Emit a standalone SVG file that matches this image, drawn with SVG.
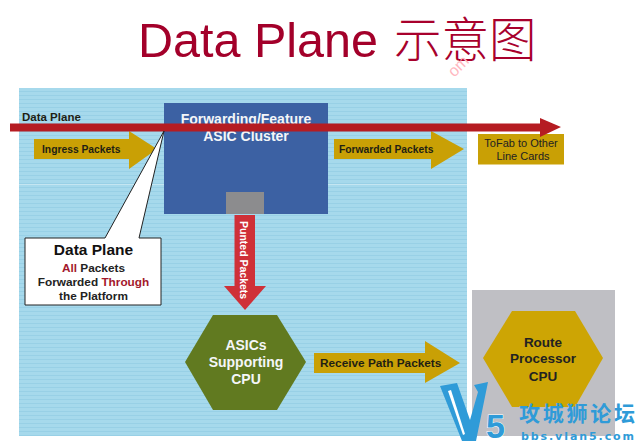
<svg xmlns="http://www.w3.org/2000/svg" width="639" height="447" viewBox="0 0 639 447">
<style>
.s{font-family:"Liberation Sans",Arial,sans-serif}
.w{fill:#f4f6f8;font-weight:700;text-anchor:middle;font-size:14px}
.k{fill:#1f1f14;font-weight:700;font-size:10.300px}
.gold{fill:#c9a005}
.c{text-anchor:middle}
.lk{fill:#222;font-weight:700;font-size:11.800px;text-anchor:middle}
.r{fill:#a3182c}
.wm{fill:#2f9bd8}
.rp{font-size:13.500px;font-weight:700;fill:#222;text-anchor:middle}
</style>
<defs>
<pattern id="st" width="4" height="4" patternUnits="userSpaceOnUse"><rect width="4" height="4" fill="#a6d9ec"/><rect y="3" width="4" height="1" fill="#98d0e6"/></pattern>
</defs>
<rect width="639" height="447" fill="#fff"/>
<g id="title"><text x="138" y="57" font-size="48.500" fill="#a3002a" class="s">Data Plane</text>
<text x="394" y="57" font-size="47.500" fill="#a8002c" font-family="'Noto Sans CJK SC',sans-serif" font-weight="300">示意图</text></g>
<text x="462" y="70" transform="rotate(-45 462 70)" font-size="16" fill="#ffb8c0" class="s c">om</text>
<g id="panel"><rect x="19" y="88" width="448" height="348" fill="url(#st)"/><rect x="19" y="184" width="448" height="1" fill="#c4e6f2"/></g>
<g id="cluster"><rect x="164" y="103" width="164" height="111" fill="#3c61a3"/><rect x="226" y="192" width="38" height="22" fill="#8c8c8e"/>
<text x="246" y="124" class="s w">Forwarding/Feature</text><text x="246" y="141" class="s w">ASIC Cluster</text></g>
<g id="tofab"><rect x="478" y="134" width="86" height="30.500" class="gold"/>
<text x="521" y="147" class="s c" font-size="11" fill="#222">ToFab to Other</text><text x="523" y="160" class="s c" font-size="11" fill="#222">Line Cards</text></g>
<g id="connectors">
<path id="ingress" class="gold" d="M34 139H129V131L157 149L129 169V159H34Z"/>
<path id="forwarded" class="gold" d="M334 139H431V131L464 149L431 169V159H334Z"/>
<path id="receive" class="gold" d="M314 353H425V341L460 363L425 383V373H314Z"/>
<path id="punted" fill="#cf3038" d="M234.500 215H255V286H266L245 310L224 286H234.500Z"/>
<path id="dataplane" fill="#b51c22" d="M10 123.500H540V118L561 127L540 137V131.500H10Z"/>
</g>
<text x="22" y="121" class="s k" style="font-size:11.500px">Data Plane</text>
<text x="42" y="153" class="s k">Ingress Packets</text>
<text x="339" y="153" class="s k">Forwarded Packets</text>
<text x="320" y="367" class="s k" style="font-size:11.800px">Receive Path Packets</text>
<text transform="translate(240 221) rotate(90)" class="s" font-size="10.500" font-weight="700" fill="#fff">Punted Packets</text>
<g id="callout"><path d="M25 238H105L164 131L139 238H161V305H25Z" fill="#fff" stroke="#222" stroke-width="1"/>
<text x="93.500" y="255" class="s c" font-size="15.500" font-weight="700" fill="#111">Data Plane</text>
<text x="93.500" y="272" class="s lk"><tspan class="r">All</tspan> Packets</text>
<text x="93.500" y="286" class="s lk">Forwarded <tspan class="r">Through</tspan></text>
<text x="93.500" y="300" class="s lk">the Platform</text></g>
<g id="asics"><path d="M185 362L213 315H277L306 362L277 410H213Z" fill="#617a20"/>
<text x="246" y="350" class="s w">ASICs</text><text x="246" y="367" class="s w">Supporting</text><text x="246" y="384" class="s w">CPU</text></g>
<g id="rp"><rect x="472" y="290" width="143" height="146" fill="#bfbfc4"/><path d="M483 358L512 311H575L603 358L575 407H512Z" fill="#cda504"/>
<text x="543" y="347" class="s rp">Route</text><text x="543" y="363" class="s rp">Processor</text><text x="543" y="381" class="s rp">CPU</text></g>
<g id="watermark">
<path class="wm" d="M440 386L457 383L470 420L478 392L474 385L488 382L476 441H462Z"/>
<path fill="#fff" d="M448 391L451 390L465 434L463 435Z"/>
<text x="486" y="438" font-size="34" font-weight="700" class="s wm" stroke="#fff" stroke-width="1" paint-order="stroke">5</text>
<text x="519" y="421" font-size="21" font-weight="700" class="wm" font-family="'Noto Sans CJK SC',sans-serif" textLength="116">攻城狮论坛</text>
<text x="521" y="440" font-size="11" font-weight="700" class="wm" font-family="'DejaVu Sans',sans-serif" textLength="113">bbs.vlan5.com</text>
</g>
</svg>
